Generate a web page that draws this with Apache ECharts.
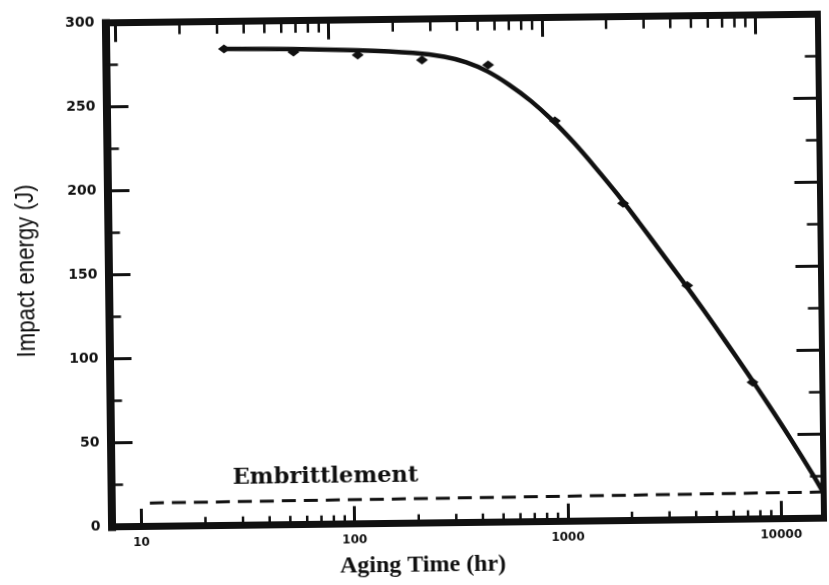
<!DOCTYPE html>
<html>
<head>
<meta charset="utf-8">
<script src="https://cdn.jsdelivr.net/npm/echarts@6/dist/echarts.min.js"></script>
<style>
  html, body { margin: 0; padding: 0; background: #fff; overflow: hidden; }
  #chart { width: 829px; height: 585px; transform: rotate(-0.7deg); transform-origin: 465px 275px; }
</style>
</head>
<body>
<div id="chart"></div>
<script>
// Fitted impact-energy curve versus aging time
const curveHours  = [26, 55, 110, 200, 280, 355, 445, 560, 710, 890, 1120, 1410, 1780, 2240, 2820, 3550, 4470, 5620, 7080, 8910, 11200, 14100, 15800];
const curveEnergy = [283.7, 283.2, 282.0, 280.0, 277.5, 274.0, 268.5, 260.5, 250.5, 239.0, 225.5, 210.5, 194.5, 177.5, 160.0, 142.5, 124.5, 106.0, 87.0, 67.5, 47.5, 26.5, 15.5];

// Measured Charpy specimens
const testHours  = [26, 55, 110, 220, 449, 917, 1893, 3744, 7478];
const testEnergy = [283.7, 281.4, 279.2, 275.7, 272.3, 238.5, 189.0, 139.5, 81.5];

// Embrittlement threshold
const limitHours  = [11, 15800];
const limitEnergy = [14, 15.7];

// Axis ticks
const xTickLabels = ['10', '100', '1000', '10000'];
const bottomMinorHours = [20, 30, 40, 50, 60, 70, 80, 90, 200, 300, 400, 500, 600, 700, 800, 900, 2000, 3000, 4000, 5000, 6000, 7000, 8000, 9000];
const topMinorHours = [20, 30, 40, 50, 60, 70, 80, 90, 200, 300, 400, 500, 600, 700, 800, 900, 2000, 3000, 4000, 5000, 6000, 7000, 8000, 9000];
const yTickLabels = ['0', '50', '100', '150', '200', '250', '300'];

const INK = '#111';

function pairs(xs, ys) { return xs.map((x, i) => [x, ys[i]]); }

// Short inward tick marks drawn through the axis scale
function minorTicks(values, xIndex, atEnergy, len, dir) {
  return {
    type: 'custom',
    xAxisIndex: xIndex,
    yAxisIndex: 0,
    silent: true,
    z: 6,
    data: values.map(v => [v, atEnergy]),
    renderItem: function (params, api) {
      const p = api.coord([api.value(0), api.value(1)]);
      return {
        type: 'line',
        shape: { x1: p[0], y1: p[1], x2: p[0], y2: p[1] + dir * len },
        style: { stroke: INK, lineWidth: 2.5 }
      };
    }
  };
}

const chart = echarts.init(document.getElementById('chart'), null, { renderer: 'canvas' });

const option = {
  backgroundColor: '#fff',
  animation: false,
  grid: { left: 108.5, right: 8.5, top: 18.7, bottom: 62.3, containLabel: false },
  xAxis: [
    {
      type: 'log', logBase: 10, min: 7.25, max: 15800, position: 'bottom',
      axisLine: { onZero: false, lineStyle: { color: INK, width: 7, cap: 'square' } },
      axisTick: { inside: true, length: 18, lineStyle: { color: INK, width: 3 } },
      axisLabel: {
        showMinLabel: false, showMaxLabel: false, margin: 10,
        color: INK, fontFamily: 'DejaVu Sans', fontWeight: 'bold', fontSize: 12,
        formatter: v => { const i = Math.round(Math.log10(v)) - 1; return xTickLabels[i] || ''; }
      },
      splitLine: { show: false }
    },
    {
      type: 'log', logBase: 10, min: 9.0, max: 19600, position: 'top',
      axisLine: { onZero: false, lineStyle: { color: INK, width: 7, cap: 'square' } },
      axisTick: { inside: true, length: 19, lineStyle: { color: INK, width: 3 } },
      axisLabel: { show: false },
      splitLine: { show: false }
    }
  ],
  yAxis: [
    {
      type: 'value', min: 0, max: 300, interval: 50, position: 'left',
      axisLine: { onZero: false, lineStyle: { color: INK, width: 8, cap: 'square' } },
      axisTick: { inside: true, length: 22, lineStyle: { color: INK, width: 3 } },
      minorTick: { show: true, splitNumber: 2, length: 12, lineStyle: { color: INK, width: 2.5 } },
      axisLabel: {
        margin: 11, color: INK, fontFamily: 'DejaVu Sans', fontWeight: 'bold', fontSize: 14,
        formatter: v => yTickLabels[Math.round(v / 50)]
      },
      splitLine: { show: false }
    },
    {
      type: 'value', min: 0, max: 300, interval: 50, position: 'right',
      axisLine: { onZero: false, lineStyle: { color: INK, width: 6, cap: 'square' } },
      axisTick: { inside: true, length: 25, lineStyle: { color: INK, width: 3 } },
      minorTick: { show: true, splitNumber: 2, length: 13, lineStyle: { color: INK, width: 2.5 } },
      axisLabel: { show: false },
      splitLine: { show: false }
    }
  ],
  graphic: [
    {
      type: 'text', x: 419.5, y: 564.5,
      style: { text: 'Aging Time (hr)', fill: INK, fontFamily: 'Liberation Serif', fontWeight: 'bold', fontSize: 24, textAlign: 'center', textVerticalAlign: 'middle' }
    },
    {
      type: 'text', x: 27, y: 265.7, rotation: Math.PI / 2, scaleX: 0.89,
      style: { text: 'Impact energy (J)', fill: INK, fontFamily: 'Liberation Sans', fontSize: 25, textAlign: 'center', textVerticalAlign: 'middle' }
    },
    {
      type: 'text', x: 323, y: 475,
      style: { text: 'Embrittlement', fill: INK, fontFamily: 'DejaVu Serif', fontWeight: 'bold', fontSize: 22.5, textAlign: 'center', textVerticalAlign: 'middle' }
    }
  ],
  series: [
    {
      name: 'Embrittlement', type: 'line', xAxisIndex: 0, yAxisIndex: 0,
      data: pairs(limitHours, limitEnergy), symbol: 'none', silent: true,
      lineStyle: { color: INK, width: 3, type: [14, 8] }
    },
    {
      name: 'Fit', type: 'line', xAxisIndex: 0, yAxisIndex: 0,
      data: pairs(curveHours, curveEnergy), symbol: 'none', smooth: 0.3, silent: true,
      lineStyle: { color: INK, width: 4.5 }
    },
    {
      name: 'Specimens', type: 'scatter', xAxisIndex: 0, yAxisIndex: 0,
      data: pairs(testHours, testEnergy), symbol: 'diamond', symbolSize: [12, 9], silent: true,
      itemStyle: { color: INK, opacity: 1 }
    },
    minorTicks(bottomMinorHours, 0, 0, 9, -1),
    minorTicks(topMinorHours, 1, 300, 12, 1)
  ]
};

chart.setOption(option);
</script>
</body>
</html>
